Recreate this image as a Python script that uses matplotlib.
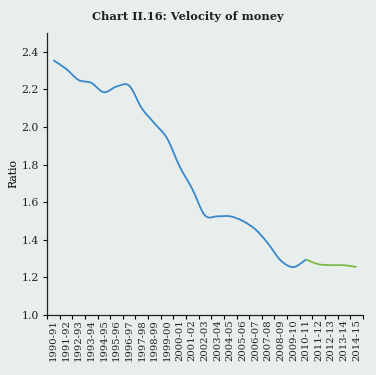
import matplotlib
matplotlib.use('Agg')
import matplotlib.pyplot as plt
from matplotlib.path import Path
from matplotlib.patches import PathPatch
import numpy as np

years = ['1990-91', '1991-92', '1992-93', '1993-94', '1994-95', '1995-96',
         '1996-97', '1997-98', '1998-99', '1999-00', '2000-01', '2001-02',
         '2002-03', '2003-04', '2004-05', '2005-06', '2006-07', '2007-08',
         '2008-09', '2009-10', '2010-11', '2011-12', '2012-13', '2013-14',
         '2014-15']
velocity = [2.355, 2.31, 2.25, 2.235, 2.185, 2.215, 2.22, 2.10, 2.02, 1.94,
            1.79, 1.67, 1.53, 1.525, 1.525, 1.50, 1.455, 1.38, 1.29, 1.255,
            1.295, 1.27, 1.265, 1.265, 1.255]
split = 20  # green from 2010-11 on


def smooth_path(xs, ys):
    # excel-like smoothed line: catmull-rom turned into bezier segments
    xs = np.asarray(xs, float)
    ys = np.asarray(ys, float)
    n = len(xs)
    verts = [(xs[0], ys[0])]
    codes = [Path.MOVETO]
    for i in range(n - 1):
        p0 = i - 1 if i > 0 else i
        p3 = i + 2 if i + 2 < n else i + 1
        c1 = (xs[i] + (xs[i + 1] - xs[p0]) / 6, ys[i] + (ys[i + 1] - ys[p0]) / 6)
        c2 = (xs[i + 1] - (xs[p3] - xs[i]) / 6, ys[i + 1] - (ys[p3] - ys[i]) / 6)
        verts += [c1, c2, (xs[i + 1], ys[i + 1])]
        codes += [Path.CURVE4] * 3
    return Path(verts, codes)


bg = '#e7eeeb'
fig = plt.figure(figsize=(3.76, 3.75), dpi=100, facecolor=bg)
ax = fig.add_axes([0.125, 0.16, 0.84, 0.752], facecolor=bg)

x = np.arange(len(years))
ax.add_patch(PathPatch(smooth_path(x[:split + 1], velocity[:split + 1]),
                       fill=False, edgecolor='#3a88cc', lw=1.3))
ax.add_patch(PathPatch(smooth_path(x[split:], velocity[split:]),
                       fill=False, edgecolor='#7cb84a', lw=1.3))

ax.set_xlim(-0.5, len(years) - 0.5)
ax.set_ylim(1.0, 2.5)
ax.set_yticks(np.arange(1.0, 2.41, 0.2))
ax.set_yticklabels(['%.1f' % v for v in np.arange(1.0, 2.41, 0.2)])

ax.set_xticks(x)
ax.set_xticklabels(years, rotation=90)
ax.set_xticks(np.arange(-0.5, len(years)), minor=True)
ax.tick_params(axis='x', which='major', length=0, pad=3)
ax.tick_params(axis='x', which='minor', length=3, width=0.8, direction='out')
ax.tick_params(axis='y', length=3, width=0.8, direction='out', pad=3)

for lab in ax.get_xticklabels():
    lab.set_fontfamily('DejaVu Serif')
    lab.set_fontsize(7.2)
    lab.set_color('#222222')
for lab in ax.get_yticklabels():
    lab.set_fontfamily('DejaVu Serif')
    lab.set_fontsize(7.8)
    lab.set_color('#222222')

for s in ['top', 'right']:
    ax.spines[s].set_visible(False)
for s in ['left', 'bottom']:
    ax.spines[s].set_linewidth(0.9)
    ax.spines[s].set_color('#222222')

ax.set_ylabel('Ratio', family='DejaVu Serif', fontsize=7.8, labelpad=2)
fig.text(0.5, 0.955, 'Chart II.16: Velocity of money', ha='center', va='center',
         family='DejaVu Serif', fontweight='bold', fontsize=8.2, color='#222222')

fig.savefig('out.png', dpi=100, facecolor=bg)
